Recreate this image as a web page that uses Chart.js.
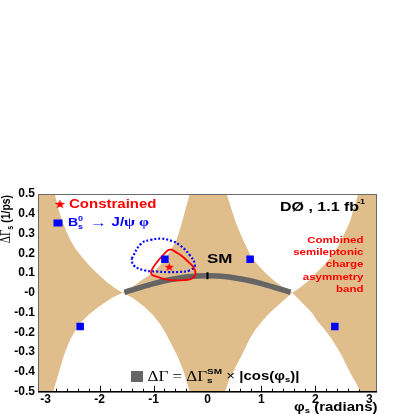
<!DOCTYPE html>
<html>
<head>
<meta charset="utf-8">
<script src="https://cdn.jsdelivr.net/npm/chart.js@4.4.1/dist/chart.umd.min.js"></script>
<style>
html,body{margin:0;padding:0;background:#fff;}
#wrap{width:415px;height:415px;}
</style>
</head>
<body>
<div id="wrap"><canvas id="c" width="415" height="415"></canvas></div>
<script>
// ---------------- data ----------------
// upper edge of the semileptonic-asymmetry band (phi_s, DeltaGamma_s)
const bandUpperPhi = [-3.1416, -2.83, -2.76, -2.68, -2.55, -2.44, -2.33, -2.18, -2.05, -1.88, -1.72, -1.571,
  -1.42, -1.24, -1.02, -0.88, -0.763, -0.65, -0.576, -0.50, -0.43, -0.37, -0.327,
  0.355, 0.43, 0.53, 0.66, 0.81, 0.94, 1.075, 1.24, 1.40, 1.571,
  1.73, 1.88, 2.01, 2.16, 2.29, 2.40, 2.48, 2.63, 2.725, 2.79, 3.1416];
const bandUpperDG = [0.5, 0.5, 0.42, 0.355, 0.27, 0.22, 0.183, 0.135, 0.10, 0.058, 0.025, 0.0,
  0.025, 0.06, 0.10, 0.14, 0.183, 0.23, 0.267, 0.33, 0.40, 0.46, 0.5,
  0.5, 0.436, 0.352, 0.267, 0.183, 0.14, 0.10, 0.06, 0.028, 0.0,
  0.03, 0.062, 0.10, 0.14, 0.183, 0.225, 0.267, 0.352, 0.436, 0.5, 0.5];
// lower edge of the band
const bandLowerPhi = [-3.1416, -2.86, -2.76, -2.67, -2.55, -2.46, -2.36, -2.20, -2.015, -1.77, -1.571,
  -1.39, -1.17, -1.02, -0.89, -0.79, -0.71, -0.55, -0.43, -0.333,
  0.327, 0.40, 0.48, 0.64, 0.79, 0.89, 1.01, 1.16, 1.32, 1.571,
  1.79, 1.93, 2.04, 2.17, 2.29, 2.48, 2.63, 2.74, 2.84, 3.1416];
const bandLowerDG = [-0.5, -0.5, -0.407, -0.323, -0.238, -0.195, -0.154, -0.11, -0.07, -0.025, 0.0,
  -0.025, -0.07, -0.11, -0.154, -0.195, -0.238, -0.323, -0.407, -0.5,
  -0.5, -0.44, -0.397, -0.313, -0.228, -0.185, -0.144, -0.10, -0.06, 0.0,
  -0.06, -0.10, -0.144, -0.185, -0.228, -0.313, -0.397, -0.45, -0.5, -0.5];
// Standard Model band  dG = dG_SM x |cos(phi_s)|
const smPhi = [-1.54, -1.3, -1.0, -0.7, -0.4, -0.2, 0.0, 0.2, 0.4, 0.7, 1.0, 1.3, 1.54];
const smDG  = [0.003, 0.023, 0.047, 0.066, 0.080, 0.085, 0.087, 0.085, 0.080, 0.066, 0.047, 0.023, 0.003];
const smMarkPhi = [0.0];
const smMarkDG = [0.087];
// Bs -> J/psi phi contour (blue dotted)
const jpsiContourPhi = [-1.406, -1.23, -1.05, -0.856, -0.66, -0.514, -0.327, -0.234, -0.327, -0.52, -0.733, -0.95, -1.168, -1.368, -1.406];
const jpsiContourDG  = [0.173, 0.249, 0.268, 0.274, 0.262, 0.241, 0.190, 0.139, 0.114, 0.106, 0.105, 0.108, 0.114, 0.139, 0.173];
// constrained contour (red)
const conContourPhi = [-0.669, -0.55, -0.452, -0.35, -0.265, -0.221, -0.295, -0.45, -0.607, -0.78, -0.920, -1.043, -0.981, -0.826, -0.733, -0.669];
const conContourDG  = [0.220, 0.200, 0.181, 0.155, 0.131, 0.097, 0.072, 0.064, 0.063, 0.068, 0.080, 0.097, 0.139, 0.190, 0.215, 0.220];
// Bs -> J/psi phi solutions (blue squares)
const jpsiPhi = [-0.79, 0.79, -2.36, 2.36];
const jpsiDG  = [0.17, 0.17, -0.17, -0.17];
// constrained central value (red star)
const conPhi = [-0.71];
const conDG  = [0.132];
// tick labels
const xTickLabels = ['-3', '-2', '-1', '0', '1', '2', '3'];
const yTickLabels = ['-0.5', '-0.4', '-0.3', '-0.2', '-0.1', '-0', '0.1', '0.2', '0.3', '0.4', '0.5'];

// ---------------- styling ----------------
const TAN = '#dfbe8c';
const GRAY = '#656565';
const BLUE = '#0000ff';
const RED = '#ff0000';
const SANS = '"Liberation Sans", Arial, Helvetica, sans-serif';
const SERIF = '"Liberation Serif", "Times New Roman", serif';
const B = s => `bold ${s}px ${SANS}`;
const SQUASH = 0.8;

const xy = (xs, ys) => xs.map((x, i) => ({x: x, y: ys[i]}));

function makeStar(color, R) {
  const c = document.createElement('canvas');
  c.width = Math.ceil(2 * R + 1); c.height = Math.ceil(2 * R);
  const g = c.getContext('2d');
  g.translate(c.width / 2, c.height / 2 + 0.4);
  g.scale(1, 0.86);
  g.beginPath();
  for (let i = 0; i < 10; i++) {
    const r = i % 2 === 0 ? R : R * 0.42;
    const a = -Math.PI / 2 + i * Math.PI / 5;
    const px = r * Math.cos(a), py = r * Math.sin(a);
    if (i === 0) g.moveTo(px, py); else g.lineTo(px, py);
  }
  g.closePath();
  g.fillStyle = color;
  g.fill();
  return c;
}
const starImg = makeStar(RED, 5);
const starLegendImg = makeStar(RED, 5.6);

// rich text: parts drawn side by side; supports sub/superscript stacks
function drawRich(ctx, parts, x, y, align, rot) {
  ctx.save();
  let W = 0;
  const widths = parts.map(p => {
    let w;
    ctx.font = p.font;
    if (p.stack) {
      w = Math.max(ctx.measureText(p.stack[0]).width, ctx.measureText(p.stack[1]).width);
    } else {
      w = ctx.measureText(p.t).width;
    }
    w += (p.gap || 0);
    W += w;
    return w;
  });
  ctx.translate(x, y);
  if (rot) { ctx.rotate(rot); ctx.scale(SQUASH, 1); } else { ctx.scale(1, SQUASH); }
  let cx = align === 'right' ? -W : (align === 'center' ? -W / 2 : 0);
  ctx.textBaseline = 'middle';
  ctx.textAlign = 'left';
  parts.forEach((p, i) => {
    ctx.fillStyle = p.color;
    ctx.font = p.font;
    if (p.stack) {
      ctx.fillText(p.stack[0], cx, -(p.up || 5));
      ctx.fillText(p.stack[1], cx, (p.down || 5));
    } else {
      ctx.fillText(p.t, cx, -(p.dy || 0));
    }
    cx += widths[i];
  });
  ctx.restore();
}

const axisTicksPlugin = {
  id: 'axisTicks',
  beforeDatasetsDraw(chart) {
    const ctx = chart.ctx, xs = chart.scales.x, a = chart.chartArea;
    ctx.save();
    ctx.strokeStyle = '#000';
    ctx.lineWidth = 1;
    ctx.beginPath();
    for (let i = -15; i <= 15; i++) {
      const px = Math.round(xs.getPixelForValue(i / 5)) + 0.5;
      const len = (i % 5 === 0) ? 6 : 3;
      ctx.moveTo(px, a.bottom);
      ctx.lineTo(px, a.bottom - len);
    }
    ctx.stroke();
    ctx.restore();
  }
};

const annotPlugin = {
  id: 'annot',
  afterDatasetsDraw(chart) {
    const ctx = chart.ctx, a = chart.chartArea;
    ctx.save();
    // frame
    ctx.strokeStyle = '#6a6a6a';
    ctx.lineWidth = 1;
    ctx.strokeRect(Math.round(a.left) + 0.5, Math.round(a.top) + 0.5, Math.round(a.right - a.left) - 1, Math.round(a.bottom - a.top));
    ctx.strokeStyle = '#000';
    ctx.beginPath();
    ctx.moveTo(a.left, Math.round(a.bottom) - 0.5);
    ctx.lineTo(a.right, Math.round(a.bottom) - 0.5);
    ctx.stroke();

    // legend: constrained
    ctx.drawImage(starLegendImg, 60 - starLegendImg.width / 2, 204 - starLegendImg.height / 2);
    drawRich(ctx, [{t: 'Constrained', font: B(15), color: RED}], 69, 204.5, 'left');
    // legend: Bs -> J/psi phi
    ctx.fillStyle = BLUE;
    ctx.fillRect(53.5, 219.5, 9, 7);
    drawRich(ctx, [
      {t: 'B', font: B(14), color: BLUE},
      {stack: ['0', 's'], font: B(9), color: BLUE, up: 5, down: 5, gap: 2},
      {t: ' \u2192 ', font: `bold 17px ${SANS}`, color: BLUE},
      {t: 'J/', font: B(15), color: BLUE},
      {t: '\u03c8 \u03c6', font: `bold 16px ${SERIF}`, color: BLUE}
    ], 68, 223, 'left');
    // experiment label
    drawRich(ctx, [
      {t: 'D\u00d8 , 1.1 fb', font: B(16), color: '#000', gap: -2},
      {t: '-1', font: B(9), color: '#000', dy: 6}
    ], 280, 207, 'left');
    // SM
    drawRich(ctx, [{t: 'SM', font: B(17), color: '#000'}], 207, 259.5, 'left');
    // band description
    const lines = ['Combined', 'semileptonic', 'charge', 'asymmetry', 'band'];
    const ly = [240, 252.5, 264.5, 277, 289.3];
    lines.forEach((s, i) => drawRich(ctx, [{t: s, font: B(11.5), color: RED}], 363.5, ly[i], 'right'));
    // SM legend
    ctx.fillStyle = GRAY;
    ctx.fillRect(131, 371, 12, 11);
    drawRich(ctx, [
      {t: '\u0394\u0393 = \u0394\u0393', font: `17px ${SERIF}`, color: '#000'},
      {stack: ['SM', 's'], font: B(10), color: '#000', up: 6, down: 5},
      {t: ' \u00d7 ', font: `15px ${SANS}`, color: '#000'},
      {t: '|cos(\u03c6', font: B(15), color: '#000'},
      {t: 's', font: B(9.5), color: '#000', dy: -4},
      {t: ')|', font: B(15), color: '#000'}
    ], 147.5, 377, 'left');
    // axis titles
    drawRich(ctx, [
      {t: '\u0394\u0393', font: `14px ${SERIF}`, color: '#000'},
      {t: 's', font: B(9), color: '#000', dy: -4},
      {t: ' (1/ps)', font: B(13), color: '#000'}
    ], 6.5, 195, 'right', -Math.PI / 2);
    drawRich(ctx, [
      {t: '\u03c6', font: B(15), color: '#000'},
      {t: 's', font: B(9.5), color: '#000', dy: -4},
      {t: ' (radians)', font: B(15), color: '#000'}
    ], 377.5, 407.5, 'right');
    ctx.restore();
  }
};

new Chart(document.getElementById('c'), {
  type: 'line',
  data: {
    datasets: [
      {data: xy(bandUpperPhi, bandUpperDG), fill: '+1', backgroundColor: TAN, borderWidth: 0, borderColor: 'rgba(0,0,0,0)', pointRadius: 0, tension: 0, order: 10},
      {data: xy(bandLowerPhi, bandLowerDG), fill: false, borderWidth: 0, borderColor: 'rgba(0,0,0,0)', pointRadius: 0, tension: 0, order: 11},
      {data: xy(smPhi, smDG), fill: false, borderColor: GRAY, borderWidth: 5.5, borderCapStyle: 'butt', pointRadius: 0, cubicInterpolationMode: 'monotone', order: 5},
      {data: xy(jpsiContourPhi, jpsiContourDG), fill: false, borderColor: BLUE, borderWidth: 2.2, borderDash: [2, 2], pointRadius: 0, tension: 0.45, order: 4},
      {data: xy(conContourPhi, conContourDG), fill: false, borderColor: RED, borderWidth: 1.8, pointRadius: 0, tension: 0.45, order: 3},
      {data: xy(smMarkPhi, smMarkDG), showLine: false, pointStyle: 'line', rotation: 90, pointRadius: 3.5, pointBorderWidth: 2, pointBorderColor: '#000', order: 2},
      {data: xy(jpsiPhi, jpsiDG), showLine: false, pointStyle: 'rect', pointRadius: 5.3, pointBackgroundColor: BLUE, pointBorderWidth: 0, order: 1},
      {data: xy(conPhi, conDG), showLine: false, pointStyle: starImg, order: 0}
    ]
  },
  options: {
    responsive: false,
    devicePixelRatio: 1,
    animation: false,
    events: [],
    layout: {padding: {top: 194, right: 38, left: 0, bottom: 0}},
    plugins: {legend: {display: false}, tooltip: {enabled: false}, title: {display: false}},
    scales: {
      x: {
        type: 'linear', min: -Math.PI, max: Math.PI,
        grid: {display: false, drawTicks: false},
        border: {display: false},
        ticks: {stepSize: 1, includeBounds: false, padding: 1, color: '#000', font: {family: SANS, size: 12, weight: 'bold'},
          maxRotation: 0, autoSkip: false,
          callback: (v, i) => xTickLabels[i]},
        afterFit: s => { s.height = 23.3; }
      },
      y: {
        type: 'linear', min: -0.5, max: 0.5,
        grid: {display: false, drawTicks: false},
        border: {display: false},
        ticks: {stepSize: 0.1, padding: 3, color: '#000', font: {family: SANS, size: 12, weight: 'bold'},
          autoSkip: false,
          callback: (v, i) => yTickLabels[i]},
        afterFit: s => { s.width = 38; }
      }
    }
  },
  plugins: [axisTicksPlugin, annotPlugin]
});
</script>
</body>
</html>
